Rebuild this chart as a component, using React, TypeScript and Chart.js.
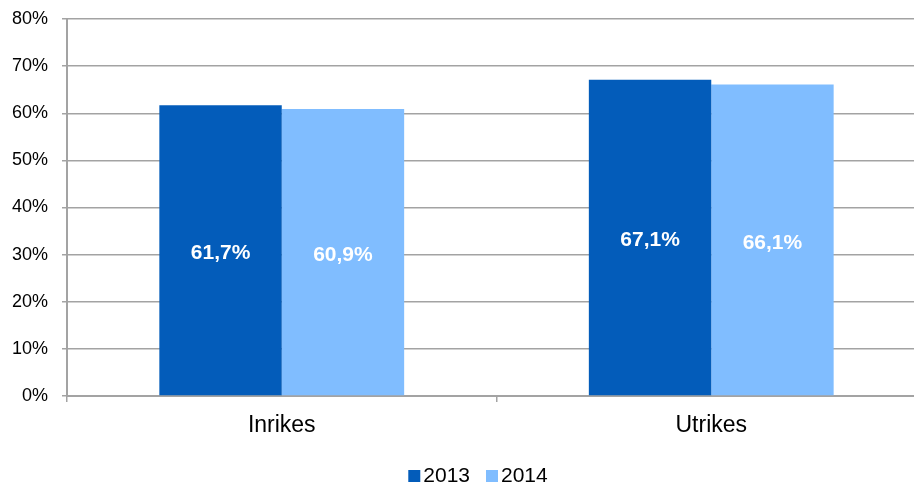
import React, { useEffect, useRef } from 'react';
import { Chart, registerables } from 'chart.js';

Chart.register(...registerables);

const categories = ['Inrikes', 'Utrikes'];
const seriesNames = ['2013', '2014'];
const values2013 = [61.7, 67.1];
const values2014 = [60.9, 66.1];
const seriesColors = ['#035CBA', '#80BDFF'];
const yMin = 0;
const yMax = 80;
const yStep = 10;

const FONT = '"Liberation Sans", Arial, Helvetica, sans-serif';
const GRID = '#a3a3a3';

const fmt = (v: number) => v.toFixed(1).replace('.', ',') + '%';

const dataLabelPlugin = {
  id: 'barValueLabels',
  afterDatasetsDraw(chart: any) {
    const ctx = chart.ctx;
    ctx.save();
    ctx.font = `bold 21px ${FONT}`;
    ctx.fillStyle = '#ffffff';
    ctx.textAlign = 'center';
    ctx.textBaseline = 'middle';
    chart.data.datasets.forEach((ds: any, i: number) => {
      chart.getDatasetMeta(i).data.forEach((bar: any, j: number) => {
        const { x, y, base } = bar.getProps(['x', 'y', 'base'], true);
        ctx.fillText(fmt(ds.data[j]), x, (y + base) / 2 + 3);
      });
    });
    ctx.restore();
  },
};

const legendPlugin = {
  id: 'customLegend',
  afterDraw(chart: any) {
    const ctx = chart.ctx;
    ctx.save();
    ctx.font = `21px ${FONT}`;
    ctx.textBaseline = 'middle';
    ctx.textAlign = 'left';
    const box = 12;
    const gapText = 3;
    const gapItem = 16;
    const items = chart.data.datasets.map((ds: any) => ({
      label: ds.label,
      color: ds.backgroundColor,
      w: ctx.measureText(ds.label).width,
    }));
    const total = items.reduce((s: number, it: any, i: number) => s + box + gapText + it.w + (i > 0 ? gapItem : 0), 0);
    let x = 478 - total / 2;
    const cy = 476;
    items.forEach((it: any, i: number) => {
      if (i > 0) x += gapItem;
      ctx.fillStyle = it.color;
      ctx.fillRect(x, cy - box / 2, box, box);
      x += box + gapText;
      ctx.fillStyle = '#000000';
      ctx.fillText(it.label, x, cy);
      x += it.w;
    });
    ctx.restore();
  },
};

export default function App() {
  const ref = useRef<HTMLCanvasElement | null>(null);

  useEffect(() => {
    document.body.style.margin = '0';
    document.body.style.overflow = 'hidden';
    if (!ref.current) return;
    const chart = new Chart(ref.current, {
      type: 'bar',
      data: {
        labels: categories,
        datasets: [
          { label: seriesNames[0], data: values2013, backgroundColor: seriesColors[0], borderWidth: 0 },
          { label: seriesNames[1], data: values2014, backgroundColor: seriesColors[1], borderWidth: 0 },
        ],
      },
      options: {
        animation: false,
        responsive: false,
        maintainAspectRatio: false,
        layout: { padding: { top: 19, left: 0, right: 0, bottom: 41 } },
        datasets: { bar: { categoryPercentage: 0.57, barPercentage: 1 } },
        plugins: { legend: { display: false }, tooltip: { enabled: false } },
        scales: {
          x: {
            afterFit: (s: any) => { s.height = 50; s.paddingLeft = 0; s.paddingRight = 0; },
            grid: { offset: true, drawOnChartArea: false, drawTicks: true, tickLength: 6, color: GRID, lineWidth: 1.5 },
            border: { color: GRID, width: 2 },
            ticks: { color: '#000', font: { family: FONT, size: 23 }, padding: 10 },
          },
          y: {
            min: yMin,
            max: yMax,
            afterFit: (s: any) => { s.width = 67; s.paddingTop = 0; s.paddingBottom = 0; },
            grid: { color: GRID, lineWidth: 1.5, tickLength: 5 },
            border: { color: GRID, width: 2 },
            ticks: {
              stepSize: yStep,
              color: '#000',
              font: { family: FONT, size: 18 },
              padding: 14,
              callback: (v: any) => v + '%',
            },
          },
        },
      },
      plugins: [dataLabelPlugin, legendPlugin],
    });
    return () => chart.destroy();
  }, []);

  return (
    <div style={{ width: 914, height: 487, position: 'relative', overflow: 'hidden' }}>
      <canvas ref={ref} width={926} height={487} style={{ display: 'block' }} />
    </div>
  );
}
